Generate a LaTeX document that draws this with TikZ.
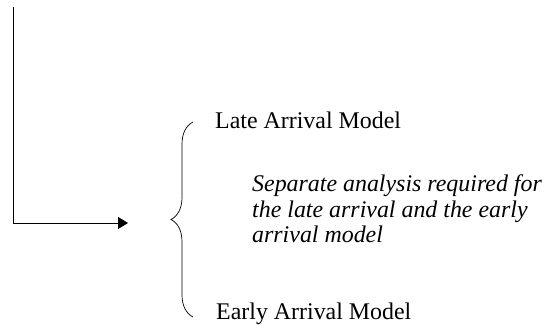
\documentclass[tikz,border=0pt]{standalone}
\usepackage{fontspec}
\setmainfont{Liberation Serif}
\usepackage{tikz}
\usetikzlibrary{arrows.meta,decorations.pathreplacing,positioning}

\begin{document}
\begin{tikzpicture}[x=1pt, y=-1pt]
    \tikzstyle{modeltext} = [anchor=base west, inner sep=0pt, font=\fontsize{23.9}{25.5}\selectfont]
    \tikzstyle{remark} = [modeltext, align=left, font=\fontsize{23.9}{25.5}\selectfont\itshape]
    \tikzstyle{arrow} = [-{Triangle[length=10pt,width=12pt]}, line width=0.9pt]
    \tikzstyle{curly} = [decorate, decoration={brace, amplitude=22pt}, line width=0.7pt]

    \useasboundingbox (0,0) rectangle (547,328);

    \coordinate (start) at (13,7);
    \coordinate (target) at (128,223);
    \coordinate (bracetop) at (193,122);
    \coordinate (bracebot) at (193,317);

    \node [modeltext] (late) at (215,129) {Late Arrival Model};
    \node [modeltext] (early) at (216,320) {Early Arrival Model};
    \node [remark] (separate) at (252,243) {Separate analysis required for\\the late arrival and the early\\arrival model};

    \draw [arrow] (start) |- (target);
    \draw [curly] (bracebot) -- (bracetop);
\end{tikzpicture}
\end{document}
